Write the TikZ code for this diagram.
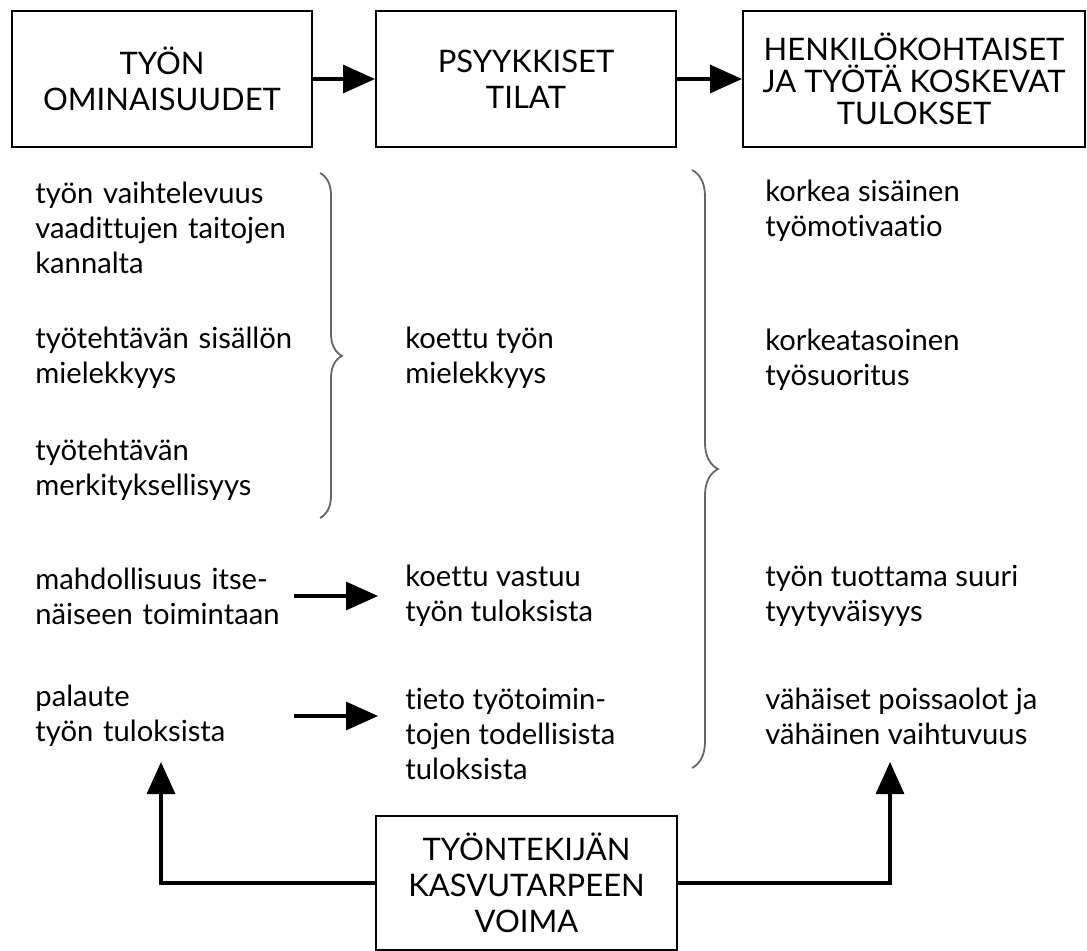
\documentclass[tikz,border=0pt]{standalone}
\usepackage{fontspec}
\setmainfont{Lato}[Ligatures=NoCommon]
\usetikzlibrary{arrows.meta,decorations.pathreplacing}
\begin{document}
\begin{tikzpicture}[x=0.5pt,y=-0.5pt,
    box/.style={draw,line width=1pt,align=center,inner sep=0pt,font=\fontsize{15.5}{18}\selectfont},
    txt/.style={anchor=west,align=left,inner sep=0pt,font=\fontsize{14.6}{17.5}\selectfont},
    lefttxt/.style={txt,text width=129pt},
    arr/.style={line width=1.6pt,-{Triangle[length=16pt,width=14pt]}},
    brc/.style={draw=black!60,line width=0.9pt,decorate}]
  \useasboundingbox (0,0) rectangle (1087,951);

  % top row
  \node[box,minimum width=150pt,minimum height=68pt] (omin) at (162,79) {TYÖN\\OMINAISUUDET};
  \node[box,minimum width=150pt,minimum height=68pt] (tilat) at (526,79) {PSYYKKISET\\TILAT};
  \node[box,minimum width=171pt,minimum height=68pt,font=\fontsize{15.5}{16}\selectfont] (tulos) at (914,79) {HENKILÖKOHTAISET\\JA TYÖTÄ KOSKEVAT\\TULOKSET};
  \draw[arr] (omin) -- (tilat);
  \draw[arr] (tilat) -- (tulos);

  % left column
  \node[lefttxt] (vaiht) at (35,228) {työn vaihtelevuus\\vaadittujen taitojen\\kannalta};
  \node[lefttxt] (sisal) at (35,358) {työtehtävän sisällön\\mielekkyys};
  \node[lefttxt] (merk) at (35,470) {työtehtävän\\merkityksellisyys};
  \node[lefttxt] (itse) at (35,596) {mahdollisuus itse-\\näiseen toimintaan};
  \node[lefttxt] (palaute) at (35,716) {palaute\\työn tuloksista};

  % middle column
  \node[txt] (koettu) at (405,358) {koettu työn\\mielekkyys};
  \node[txt] (vastuu) at (405,596) {koettu vastuu\\työn tuloksista};
  \node[txt] (tieto) at (405,734) {tieto työtoimin-\\tojen todellisista\\tuloksista};

  % right column
  \node[txt] (motiv) at (765,211) {korkea sisäinen\\työmotivaatio};
  \node[txt] (suor) at (765,360) {korkeatasoinen\\työsuoritus};
  \node[txt] (tyyt) at (765,596) {työn tuottama suuri\\tyytyväisyys};
  \node[txt] (poiss) at (765,716) {vähäiset poissaolot ja\\vähäinen vaihtuvuus};

  % braces
  \coordinate (b1top) at (320,173);
  \coordinate (b1bot) at (320,518);
  \coordinate (b2top) at (692,170);
  \coordinate (b2bot) at (692,768);
  \draw[brc,decoration={brace,amplitude=11pt,aspect=0.53}] (b1top) -- (b1bot);
  \draw[brc,decoration={brace,amplitude=13pt,aspect=0.5}] (b2top) -- (b2bot);

  \draw[arr,shorten >=13.5pt] (itse.east) -- (itse.east -| vastuu.west);
  \draw[arr,shorten >=13.5pt] (palaute.east) -- (palaute.east -| tieto.west);

  % bottom box
  \node[box,minimum width=150.5pt,minimum height=67pt] (kasvu) at (526.5,883) {TYÖNTEKIJÄN\\KASVUTARPEEN\\VOIMA};
  \coordinate (lup) at (161,762);
  \coordinate (rup) at (890,762);
  \draw[arr] (kasvu.west) -| (lup);
  \draw[arr] (kasvu.east) -| (rup);
\end{tikzpicture}
\end{document}
